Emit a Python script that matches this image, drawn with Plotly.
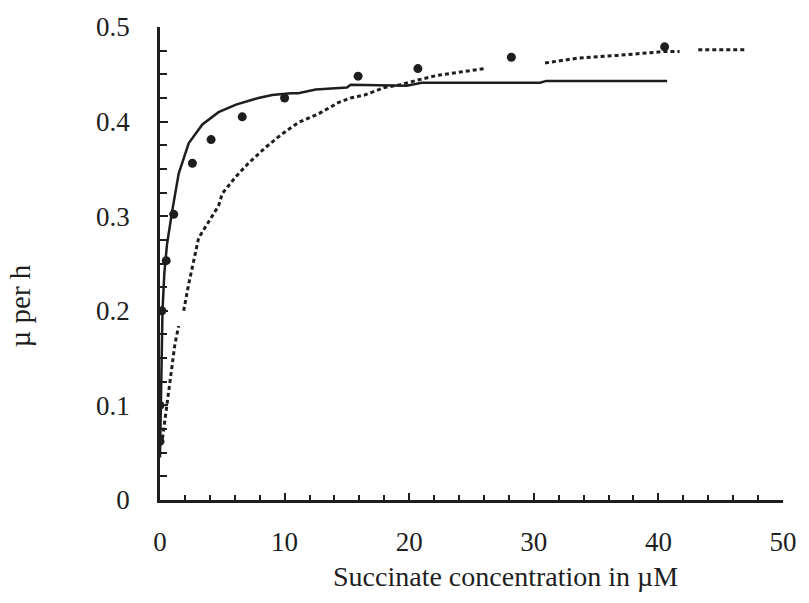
import plotly.graph_objects as go

# Observed growth rates (circles)
obs_x = [0.0, 0.0, 0.15, 0.5, 1.1, 2.6, 4.1, 6.6, 10.0, 15.9, 20.7, 28.2, 40.5]
obs_y = [0.062, 0.100, 0.200, 0.253, 0.302, 0.356, 0.381, 0.405, 0.425, 0.448, 0.456, 0.468, 0.479]

# Solid model curve
solid_x = [0.0, 0.05, 0.1, 0.2, 0.35, 0.56, 0.96, 1.5, 2.3, 3.4, 4.7, 6.1, 7.9, 9.0, 10.5,
           11.1, 12.5, 15.0, 15.3, 19.8, 21.0, 30.5, 31.0, 40.7]
solid_y = [0.045, 0.10, 0.15, 0.20, 0.24, 0.27, 0.304, 0.345, 0.377, 0.397, 0.410, 0.418, 0.425,
           0.428, 0.430, 0.430, 0.434, 0.436, 0.439, 0.438, 0.441, 0.441, 0.443, 0.443]

# Dotted model curve (with gaps)
dot_x = [0.2, 0.45, 0.7, 0.9, 1.2, 1.5, None,
         1.9, 2.3, 3.1, 3.9, 4.7, 5.0, 6.1, 7.1, 8.5, 9.7, 11.1, 12.7, 14.3, 15.3, 16.4, 18.0,
         19.3, 20.7, 22.3, 24.4, 26.0, None,
         30.9, 33.5, 36.7, 40.4, 41.7, None,
         43.2, 46.9]
dot_y = [0.065, 0.09, 0.12, 0.14, 0.165, 0.184, None,
         0.200, 0.228, 0.277, 0.294, 0.311, 0.324, 0.342, 0.356, 0.373, 0.386, 0.399, 0.408,
         0.420, 0.425, 0.428, 0.436, 0.439, 0.444, 0.449, 0.453, 0.456, None,
         0.462, 0.467, 0.470, 0.474, 0.474, None,
         0.476, 0.476]

x_ticks = [0, 10, 20, 30, 40, 50]
y_ticks = [0, 0.1, 0.2, 0.3, 0.4, 0.5]
y_ticktext = ["0", "0.1", "0.2", "0.3", "0.4", "0.5"]
x_title = "Succinate concentration in µM"
y_title = "µ per h"

ink = "#1e1e1e"
font = "Liberation Serif"

fig = go.Figure()
fig.add_trace(go.Scatter(x=solid_x, y=solid_y, mode="lines",
                         line=dict(color=ink, width=2.5), showlegend=False))
fig.add_trace(go.Scatter(x=dot_x, y=dot_y, mode="lines", connectgaps=False,
                         line=dict(color=ink, width=3, dash="4px,3px"), showlegend=False))
fig.add_trace(go.Scatter(x=obs_x, y=obs_y, mode="markers",
                         marker=dict(color=ink, size=9, line=dict(color=ink, width=0)),
                         showlegend=False))

fig.update_layout(
    width=809, height=603,
    margin=dict(l=160, r=21, t=15, b=103),
    paper_bgcolor="white", plot_bgcolor="white",
    font=dict(family=font, color=ink, size=27),
    xaxis=dict(range=[0, 50], tickvals=x_ticks,
               ticks="inside", ticklen=7, tickwidth=1.5, tickcolor=ink,
               minor=dict(dtick=2, tick0=0, ticks="inside", ticklen=5, tickwidth=1.5, tickcolor=ink),
               showline=True, linecolor=ink, linewidth=2.5, showgrid=False, zeroline=False,
               ticklabelstandoff=16),
    yaxis=dict(range=[0, 0.5], tickvals=y_ticks, ticktext=y_ticktext,
               ticks="inside", ticklen=8, tickwidth=1.5, tickcolor=ink,
               minor=dict(dtick=0.025, tick0=0, ticks="inside", ticklen=7, tickwidth=1.5, tickcolor=ink),
               showline=True, linecolor=ink, linewidth=2.5, showgrid=False, zeroline=False,
               ticklabelstandoff=22),
    annotations=[
        dict(text=x_title, xref="paper", yref="paper", x=0.554, y=-0.162,
             xanchor="center", yanchor="middle", showarrow=False, font=dict(size=28)),
        dict(text=y_title, xref="paper", yref="paper", x=-0.225, y=0.411, textangle=-90,
             xanchor="center", yanchor="middle", showarrow=False, font=dict(size=29)),
    ],
)

fig.write_html("out.html")
